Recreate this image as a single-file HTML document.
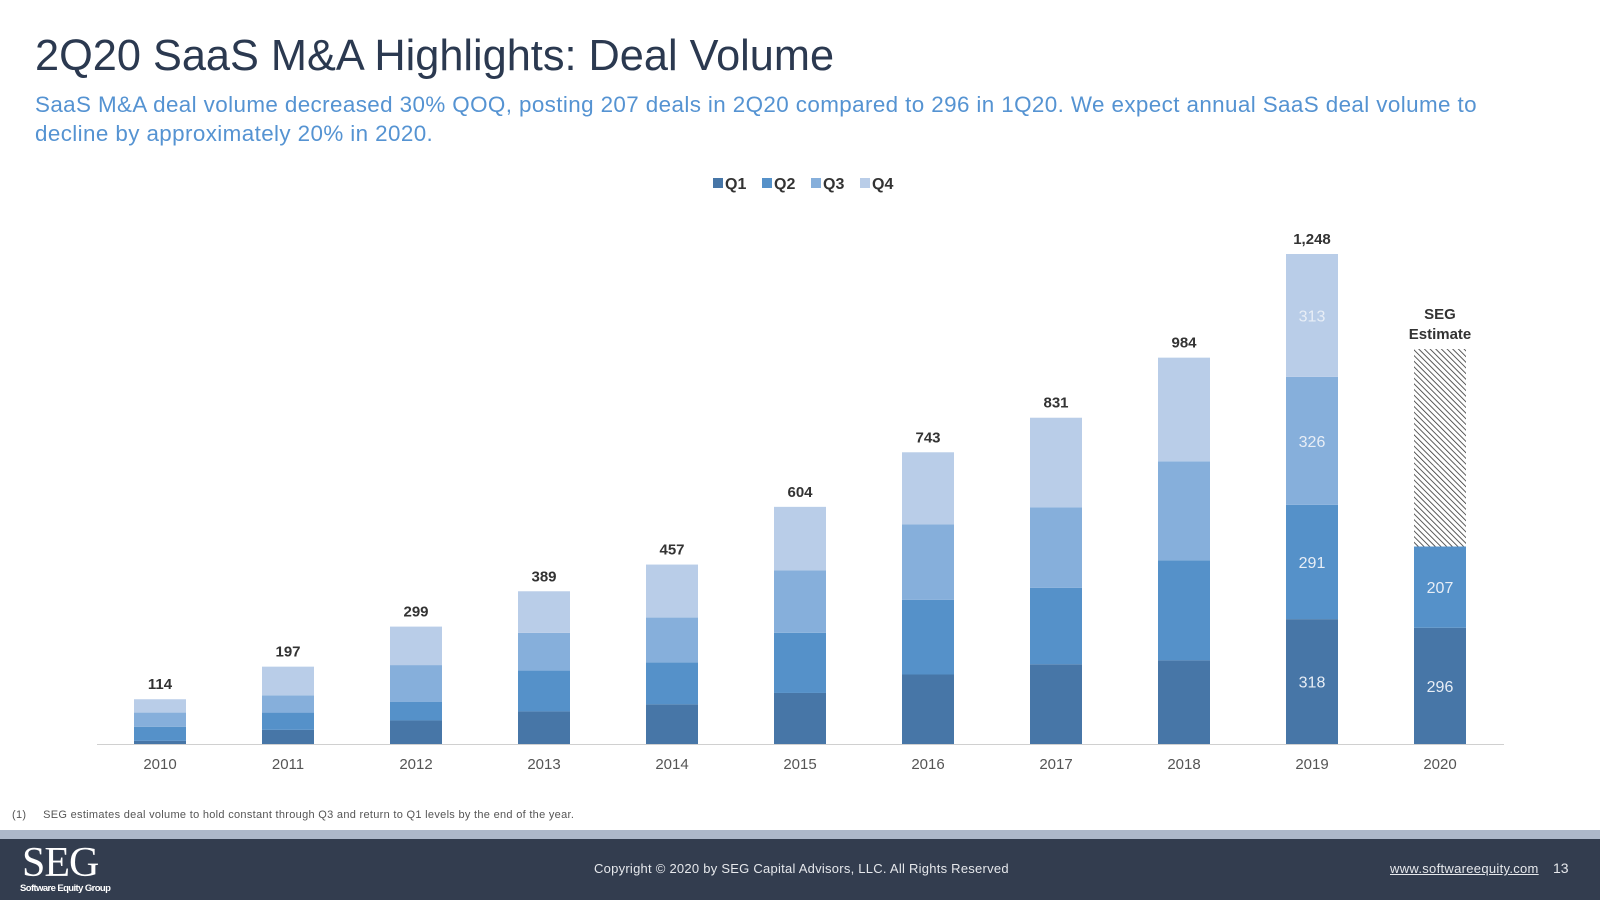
<!DOCTYPE html>
<html><head><meta charset="utf-8"><style>
html,body{margin:0;padding:0;width:1600px;height:900px;overflow:hidden;background:#fff;font-family:"Liberation Sans",Arial,sans-serif}
.t{position:absolute;left:35px;top:32px;font-size:43.3px;color:#2b3950;margin:0;font-weight:normal}
.s{position:absolute;left:35px;top:90px;font-size:22.4px;line-height:29px;color:#5593d2;width:1460px;letter-spacing:0.4px}
.fn{position:absolute;left:12px;top:809px;font-size:11px;letter-spacing:0.3px;color:#555}
.band{position:absolute;left:0;top:830px;width:1600px;height:9px;background:#adb8ca}
.foot{position:absolute;left:0;top:839px;width:1600px;height:61px;background:#333d4f;color:#e6e8ec}
</style></head><body>
<h1 class="t">2Q20 SaaS M&amp;A Highlights: Deal Volume</h1>
<div class="s">SaaS M&amp;A deal volume decreased 30% QOQ, posting 207 deals in 2Q20 compared to 296 in 1Q20. We expect annual SaaS deal volume to decline by approximately 20% in 2020.</div>
<svg id="chart" width="1600" height="900" style="position:absolute;left:0;top:0" xmlns="http://www.w3.org/2000/svg">
<defs><pattern id="hatch" width="4" height="4" patternUnits="userSpaceOnUse" patternTransform="rotate(-45)"><rect width="4" height="4" fill="#fff"/><line x1="0" y1="0" x2="0" y2="4" stroke="#333" stroke-width="1.6"/></pattern></defs>
</svg>
<div class="fn">(1)&nbsp;&nbsp;&nbsp;&nbsp;&nbsp;SEG estimates deal volume to hold constant through Q3 and return to Q1 levels by the end of the year.</div>
<div class="band"></div>
<div class="foot">
<div style="position:absolute;left:22px;top:5px;font-family:'Liberation Serif',serif;font-size:42px;line-height:38px;color:#fff;letter-spacing:-1px">SEG</div>
<div style="position:absolute;left:20px;top:44px;font-size:9.5px;font-weight:bold;color:#fff;letter-spacing:-0.6px">Software Equity Group</div>
<div style="position:absolute;left:594px;top:22px;font-size:13px;letter-spacing:0.25px">Copyright © 2020 by SEG Capital Advisors, LLC. All Rights Reserved</div>
<div style="position:absolute;left:1390px;top:22px;font-size:13px;text-decoration:underline;letter-spacing:0.3px">www.softwareequity.com</div>
<div style="position:absolute;left:1553px;top:21px;font-size:14px">13</div>
</div>
<script>
const years=["2010","2011","2012","2013","2014","2015","2016","2017","2018","2019","2020"];
const q1=[8,36,60,83,101,130,177,203,213,318,296];
const q2=[36,44,47,104,107,153,190,195,255,291,207];
const q3=[36,44,94,96,114,159,192,205,252,326,207];
const q4=[34,73,98,106,135,162,184,228,264,313,296];
const totals=["114","197","299","389","457","604","743","831","984","1,248",""];
const labeled=["2019","2020"];
const estimateYear="2020";
const series=["Q1","Q2","Q3","Q4"];
const colors=["#4776a7","#5591c9","#86afdb","#b9cde8"];
const svg=document.getElementById('chart');
const NS="http://www.w3.org/2000/svg";
const base=744,scale=490/1248,x0=160,step=128,bw=52;
const xs=i=>x0+i*step, ys=v=>base-v*scale;
function mk(tag,a){const e=document.createElementNS(NS,tag);for(const k in a)e.setAttribute(k,a[k]);svg.appendChild(e);return e;}
const ax=mk('line',{x1:97,x2:1504,y1:base+0.5,y2:base+0.5,stroke:'#d0d0d0','stroke-width':1});


const data=[q1,q2,q3,q4];
years.forEach((y,i)=>{
  let cum=0;
  const est=y===estimateYear;
  data.forEach((arr,s)=>{
    const v=arr[i];const top=ys(cum+v),bot=ys(cum);
    const hatched=est&&s>=2;
    const r=mk('rect',{x:xs(i)-bw/2,y:top,width:bw,height:bot-top,fill:hatched?'url(#hatch)':colors[s]});
    
    
    if(labeled.includes(y)&&!hatched){
      const t=mk('text',{x:xs(i),y:(top+bot)/2+6,'text-anchor':'middle','font-size':16,fill:'#e8eef6'});
      t.textContent=v;
      
      
    }
    cum+=v;
  });
  if(totals[i]){
    const t=mk('text',{x:xs(i),y:ys(cum)-10,'text-anchor':'middle','font-size':15,'font-weight':'bold',fill:'#333'});
    t.textContent=totals[i];
    
    
  } else {
    ['SEG','Estimate'].forEach((w,k)=>{
      const t=mk('text',{x:xs(i),y:ys(cum)-30+k*20,'text-anchor':'middle','font-size':15,'font-weight':'bold',fill:'#333'});
      t.textContent=w;
      
      
    });
  }
  const xl=mk('text',{x:xs(i),y:769,'text-anchor':'middle','font-size':15,fill:'#555'});
  xl.textContent=y;
  
  
});
series.forEach((s,k)=>{
  const lx=713+k*49;
  const r=mk('rect',{x:lx,y:178,width:10,height:10,fill:colors[k]});
  
  
  const t=mk('text',{x:lx+12,y:189,'font-size':16,'font-weight':'bold',fill:'#333'});
  t.textContent=s;
  
  
});
</script>
</body></html>
